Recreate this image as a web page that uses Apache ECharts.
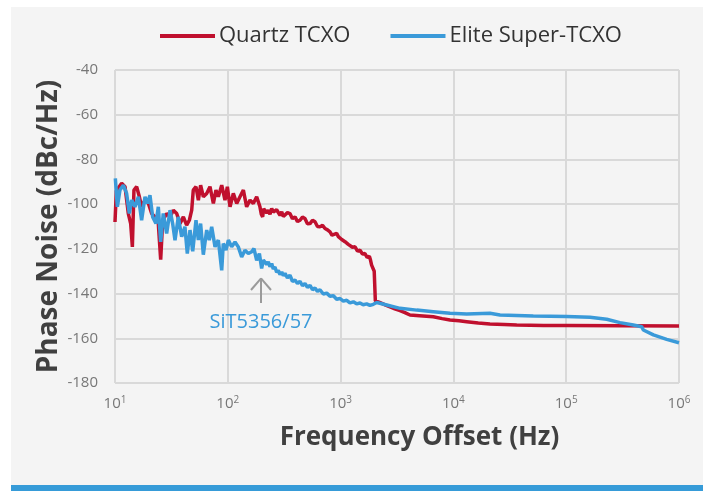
<!DOCTYPE html>
<html>
<head>
<meta charset="utf-8">
<script src="https://cdn.jsdelivr.net/npm/echarts@6/dist/echarts.min.js"></script>
<style>html,body{margin:0;padding:0;background:#fff;}#c{width:714px;height:491px;}</style>
</head>
<body>
<div id="c"></div>
<script>
// Series names
const seriesNames = ['Quartz TCXO', 'Elite Super-TCXO'];
// Frequency offsets given as log10(Hz)
const quartzFreqExp = [1.000,1.012,1.059,1.089,1.118,1.139,1.154,1.168,1.192,1.216,1.236,1.266,1.296,1.325,1.355,1.384,1.405,1.423,1.458,1.488,1.517,1.547,1.576,1.606,1.635,1.659,1.680,1.694,1.718,1.739,1.759,1.783,1.813,1.842,1.872,1.895,1.916,1.946,1.975,1.996,2.020,2.049,2.079,2.108,2.138,2.167,2.197,2.226,2.256,2.285,2.297,2.309,2.318,2.330,2.345,2.359,2.374,2.389,2.403,2.418,2.433,2.448,2.463,2.478,2.492,2.507,2.529,2.551,2.573,2.596,2.618,2.640,2.662,2.684,2.706,2.729,2.751,2.773,2.795,2.817,2.840,2.862,2.884,2.906,2.924,2.941,2.965,2.980,2.995,3.010,3.024,3.039,3.054,3.068,3.083,3.105,3.128,3.150,3.172,3.194,3.216,3.235,3.255,3.265,3.275,3.290,3.298,3.308,3.340,3.400,3.438,3.480,3.527,3.570,3.615,3.700,3.822,3.900,3.970,4.050,4.118,4.220,4.324,4.450,4.561,4.800,5.004,5.500,6.000];
const quartzDb = [-108,-94,-90.7,-92.2,-104.2,-108.7,-119.1,-93.7,-92.2,-96.7,-101.2,-98.2,-99.7,-104.2,-105.7,-108.7,-124.8,-107.2,-104.2,-105.7,-102.7,-104.2,-108.7,-105.7,-109.4,-107.2,-102.7,-93.7,-92.2,-98.2,-91.5,-96.7,-95.2,-92.2,-99.7,-93.7,-96.7,-91.5,-98.2,-92.2,-101.2,-95.2,-99.7,-96.7,-93.7,-101.2,-98.2,-99.7,-96.7,-101.2,-104.5,-105.7,-102,-101.9,-104,-102.7,-104.5,-101.9,-103.5,-104.2,-102.5,-102.7,-105,-103.4,-105.5,-104.9,-103.8,-104.2,-106.5,-105.7,-107.8,-107.2,-105.8,-106.4,-108.8,-108.7,-107.2,-107.9,-110,-110.1,-109.5,-110.9,-111.5,-112.4,-113.9,-113.9,-113.1,-114.5,-113.9,-115.8,-115.4,-116.8,-116.1,-118,-117.6,-119.3,-119.1,-121,-120.6,-122.3,-122.1,-123.8,-123.3,-125,-127.3,-128,-130.0,-143.3,-143.8,-145.2,-146.0,-146.8,-147.6,-148.5,-149.6,-149.9,-150.4,-151.2,-151.8,-152.2,-152.6,-153.2,-153.6,-153.8,-154.1,-154.3,-154.3,-154.4,-154.5];
const eliteFreqExp = [1.003,1.021,1.044,1.074,1.103,1.127,1.148,1.177,1.207,1.236,1.266,1.287,1.310,1.334,1.363,1.384,1.405,1.428,1.458,1.488,1.511,1.532,1.561,1.591,1.620,1.641,1.665,1.689,1.718,1.739,1.759,1.783,1.813,1.836,1.857,1.887,1.916,1.946,1.960,1.984,2.005,2.034,2.064,2.093,2.123,2.152,2.182,2.212,2.232,2.256,2.280,2.300,2.315,2.330,2.345,2.359,2.374,2.389,2.403,2.418,2.433,2.448,2.463,2.478,2.492,2.507,2.529,2.551,2.573,2.596,2.618,2.640,2.662,2.684,2.706,2.729,2.751,2.773,2.795,2.817,2.847,2.877,2.906,2.936,2.965,2.995,3.024,3.054,3.083,3.113,3.142,3.172,3.200,3.231,3.260,3.290,3.320,3.409,3.527,3.675,3.822,3.970,4.118,4.324,4.330,4.413,4.708,5.004,5.211,5.359,5.477,5.595,5.669,5.684,5.773,5.891,6.000];
const eliteDb = [-88.5,-101.2,-93.7,-91.5,-95.2,-104.2,-98.2,-101.2,-96.7,-107.2,-96.7,-99.7,-96.0,-105.7,-108.7,-101.2,-116.9,-104.2,-113.1,-102.7,-108.7,-116.1,-105.7,-114.6,-110.1,-122.1,-111.6,-121.1,-107.2,-116.1,-108.7,-122.6,-111.6,-116.1,-110.1,-119.1,-116.1,-129.6,-117.6,-120.6,-116.1,-119.1,-116.9,-119.1,-123.6,-120.6,-122.1,-121.3,-119.9,-125.1,-122.1,-128.8,-125,-124.3,-127,-125.8,-128,-126.6,-129,-128.1,-130.5,-129.6,-131.5,-130.3,-132,-131.0,-133,-131.8,-134.5,-134.0,-135.5,-134.5,-136.5,-135.5,-137.2,-136.3,-138.3,-137.5,-139,-138.3,-140.2,-139.8,-141.2,-141.0,-142.5,-142.2,-143.4,-143.0,-144.2,-143.7,-144.6,-144.2,-145,-144.6,-145.3,-144.8,-144.0,-145.1,-146.6,-147.4,-148.1,-148.8,-149.1,-148.8,-148.3,-149.6,-150.0,-150.3,-150.6,-151.5,-153.0,-154.1,-154.8,-156.3,-158.5,-160.5,-162.0];
// Y axis ticks
const yMin = -180, yMax = -40, yStep = 20;
// Annotation
const annotationText = 'SiT5356/57';

const toPairs = (ex, db) => ex.map((e, i) => [Math.pow(10, e), db[i]]);

const chart = echarts.init(document.getElementById('c'), null, {renderer: 'canvas'});
const FONT = '"Open Sans", sans-serif';
chart.setOption({
  backgroundColor: '#ffffff',
  animation: false,
  graphic: [
    {type: 'rect', shape: {x: 11, y: 7, width: 692, height: 478}, style: {fill: '#f4f4f4'}, z: -10, silent: true},
    {type: 'rect', shape: {x: 11, y: 485, width: 692, height: 6}, style: {fill: '#369bd8'}, z: -10, silent: true}
  ],
  legend: {
    left: 160, top: 25, padding: 0,
    icon: 'rect', itemWidth: 55, itemHeight: 4, itemGap: 40,
    textStyle: {fontFamily: FONT, fontSize: 22, color: '#333', padding: [0, 0, 0, -1]},
    data: seriesNames
  },
  grid: {left: 115, right: 35, top: 70, bottom: 108},
  xAxis: {
    type: 'log', logBase: 10, min: 10, max: 1000000,
    name: 'Frequency Offset (Hz)', nameLocation: 'middle', nameGap: 42, nameMoveOverlap: false,
    nameTextStyle: {fontFamily: FONT, fontSize: 26, fontWeight: 'bold', color: '#404040', padding: [0, 0, 0, 45]},
    axisLine: {show: false}, axisTick: {show: false},
    splitLine: {show: true, lineStyle: {color: '#d9d9d9', width: 2}},
    axisLabel: {
      margin: 12,
      formatter: v => '{b|10}{s|' + Math.round(Math.log10(v)) + '}',
      rich: {
        b: {fontFamily: FONT, fontSize: 15, color: '#777'},
        s: {fontFamily: FONT, fontSize: 10, color: '#777', padding: [0, 0, 8, 0]}
      }
    }
  },
  yAxis: {
    type: 'value', min: yMin, max: yMax, interval: yStep,
    name: 'Phase Noise (dBc/Hz)', nameLocation: 'middle', nameGap: 52, nameMoveOverlap: false,
    nameTextStyle: {fontFamily: FONT, fontSize: 28, fontWeight: 'bold', color: '#404040'},
    axisLine: {show: false}, axisTick: {show: false},
    splitLine: {show: true, lineStyle: {color: '#d9d9d9', width: 2}},
    axisLabel: {fontFamily: FONT, fontSize: 15, color: '#777', margin: 17}
  },
  series: [
    {
      name: seriesNames[0], type: 'line', data: toPairs(quartzFreqExp, quartzDb),
      showSymbol: false, symbol: 'none', color: '#c0102e',
      lineStyle: {width: 3.5, color: '#c0102e'}
    },
    {
      name: seriesNames[1], type: 'line', data: toPairs(eliteFreqExp, eliteDb),
      showSymbol: false, symbol: 'none', color: '#3a9ad9',
      lineStyle: {width: 3.5, color: '#3a9ad9'},
      markLine: {
        silent: true, symbol: 'none', animation: false,
        lineStyle: {color: '#9a9a9a', width: 2, type: 'solid'},
        label: {show: false},
        data: [
          [{coord: [197, -144.2]}, {coord: [197, -133.2]}],
          [{coord: [160.6, -138.4]}, {coord: [197, -133.2]}],
          [{coord: [241.5, -138.4]}, {coord: [197, -133.2]}]
        ]
      },
      markPoint: {
        silent: true, symbol: 'circle', symbolSize: 1,
        itemStyle: {color: 'rgba(0,0,0,0)'},
        label: {show: true, position: 'inside', formatter: annotationText, fontFamily: FONT, fontSize: 20, color: '#3a9ad9'},
        data: [{coord: [197, -152.7]}]
      }
    }
  ]
});
</script>
</body>
</html>
